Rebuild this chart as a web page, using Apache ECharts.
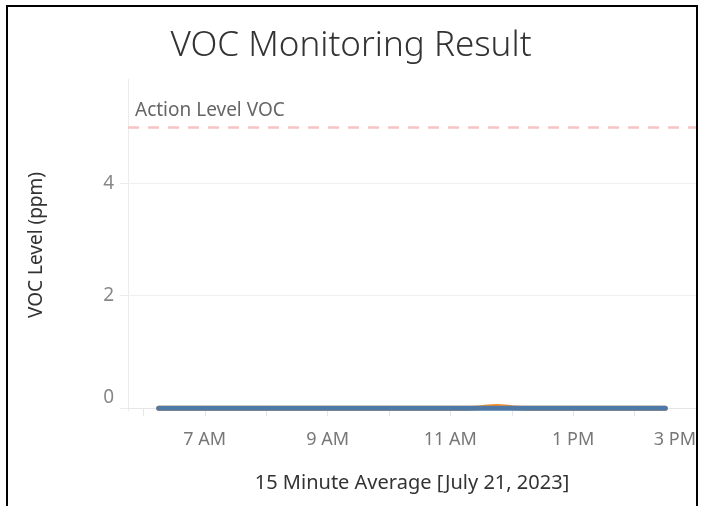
<!DOCTYPE html>
<html lang="en">
<head>
    <meta charset="UTF-8">
    <title>VOC Monitoring Result</title>
    <script src="https://cdn.jsdelivr.net/npm/echarts@6/dist/echarts.min.js"></script>
    <style>
        html, body { margin: 0; padding: 0; background: #fff; }
        #main { width: 702px; height: 506px; }
    </style>
</head>
<body>
<div id="main"></div>
<script>
    // 15 minute averages, July 21, 2023
    var times = ['06:15', '06:30', '06:45', '07:00', '07:15', '07:30', '07:45', '08:00', '08:15', '08:30',
        '08:45', '09:00', '09:15', '09:30', '09:45', '10:00', '10:15', '10:30', '10:45', '11:00',
        '11:15', '11:30', '11:45', '12:00', '12:15', '12:30', '12:45', '13:00', '13:15', '13:30',
        '13:45', '14:00', '14:15', '14:30'];
    var vocA = [0, 0, 0, 0, 0, 0, 0, 0, 0, 0,
        0, 0, 0, 0, 0, 0, 0, 0, 0, 0,
        0, 0, 0, 0, 0, 0, 0, 0, 0, 0,
        0, 0, 0, 0];
    var vocB = [0, 0, 0, 0, 0, 0, 0, 0, 0, 0,
        0, 0, 0, 0, 0, 0, 0, 0, 0, 0,
        0, 0.01, 0.03, 0.01, 0, 0, 0, 0, 0, 0,
        0, 0, 0, 0];
    var actionLevel = 5;
    var hourTicks = [6, 7, 8, 9, 10, 11, 12, 13, 14, 15];
    var hourLabels = [7, 9, 11, 13, 15];
    var yLabels = [0, 2, 4];

    function toHour(t) {
        var p = t.split(':');
        return +p[0] + (+p[1]) / 60;
    }
    function hourText(h) {
        var suffix = h < 12 ? 'AM' : 'PM';
        var hh = h % 12 === 0 ? 12 : h % 12;
        return hh + ' ' + suffix;
    }
    function pairs(vals) {
        return times.map(function (t, i) { return [toHour(t), vals[i]]; });
    }

    var font = '"Noto Sans", "Open Sans", sans-serif';
    var chart = echarts.init(document.getElementById('main'));
    var option = {
        animation: false,
        textStyle: { fontFamily: font },
        title: {
            text: 'VOC Monitoring Result',
            left: 'center',
            top: 24,
            textStyle: { fontSize: 35, fontWeight: 300, color: '#333', fontFamily: font }
        },
        graphic: [{
            type: 'rect',
            shape: { x: 7, y: 6, width: 690, height: 520 },
            style: { fill: 'none', stroke: '#000', lineWidth: 2 },
            z: 100
        }],
        grid: { left: 128, right: 6, top: 79, bottom: 95 },
        xAxis: {
            type: 'value',
            min: 5.75,
            max: 15,
            name: '15 Minute Average [July 21, 2023]',
            nameLocation: 'middle',
            nameGap: 62,
            nameTextStyle: { fontSize: 20, color: '#333' },
            axisLine: { show: true, lineStyle: { color: '#e6e6e6' } },
            axisTick: { show: true, customValues: hourTicks, length: 8, lineStyle: { color: '#e6e6e6' } },
            axisLabel: {
                customValues: hourLabels,
                formatter: function (v) { return hourText(v); },
                fontSize: 18,
                color: '#777',
                margin: 20,
                alignMaxLabel: 'right'
            },
            splitLine: { show: false }
        },
        yAxis: {
            type: 'value',
            min: -0.05,
            max: 5.85,
            name: 'VOC Level (ppm)',
            nameLocation: 'middle',
            nameGap: 82,
            nameTextStyle: { fontSize: 19, color: '#333' },
            axisLine: { show: true, lineStyle: { color: '#ececec' } },
            axisTick: { show: true, customValues: yLabels, length: 8, lineStyle: { color: '#ececec' } },
            axisLabel: {
                customValues: yLabels,
                fontSize: 19,
                color: '#888',
                margin: 14,
                formatter: function (v) { return v === 0 ? '{z|0}' : String(v); },
                rich: { z: { fontSize: 19, color: '#888', padding: [0, 0, 22, 0] } }
            },
            splitLine: { show: true, lineStyle: { color: '#f0f0f0' } }
        },
        series: [{
            name: 'Sensor B',
            type: 'line',
            data: pairs(vocB),
            smooth: true,
            showSymbol: false,
            lineStyle: { color: '#f28e2b', width: 5, cap: 'round' },
            z: 2
        }, {
            name: 'Sensor A',
            type: 'line',
            data: pairs(vocA),
            showSymbol: false,
            lineStyle: { color: '#4e79a7', width: 5, cap: 'round' },
            z: 3,
            markLine: {
                silent: true,
                symbol: 'none',
                lineStyle: { color: '#f6c4c4', type: [11, 9], width: 2.5 },
                label: {
                    position: 'insideStartTop',
                    formatter: 'Action Level VOC',
                    fontSize: 19,
                    color: '#666',
                    distance: [7, 7]
                },
                data: [{ yAxis: actionLevel }]
            }
        }]
    };
    chart.setOption(option);
</script>
</body>
</html>
